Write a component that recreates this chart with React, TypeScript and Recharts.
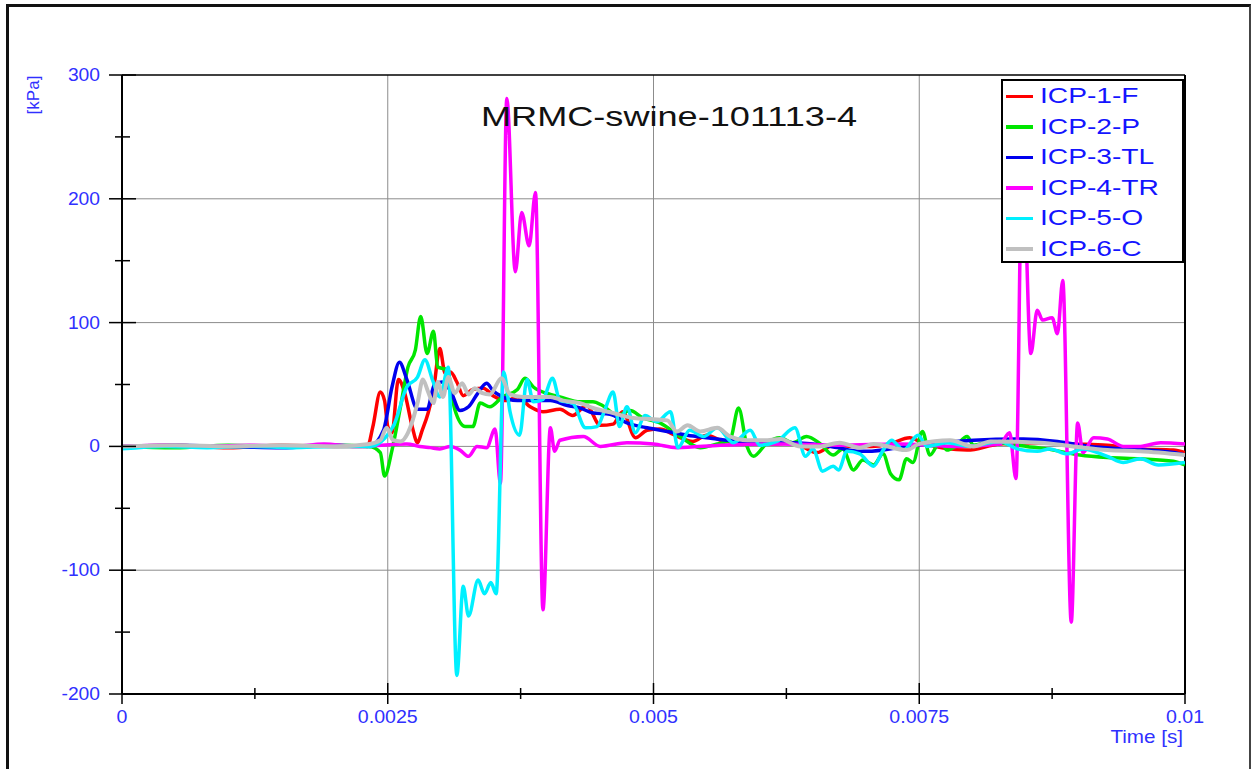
import { LineChart, Line, XAxis, YAxis, CartesianGrid, ReferenceLine, Legend } from "recharts";

const FONT = '"Liberation Sans", Arial, sans-serif';
const TICK_BLUE = "#3030ff";
const LEGEND_BLUE = "#1414ff";

const seriesNames = ["ICP-1-F", "ICP-2-P", "ICP-3-TL", "ICP-4-TR", "ICP-5-O", "ICP-6-C"];
const seriesColors = ["#ff0000", "#00e600", "#0000ee", "#ff00ff", "#00f0ff", "#c0c0c0"];

const yTicks = [-200, -150, -100, -50, 0, 50, 100, 150, 200, 250, 300];
const yGridValues = [-100, 0, 100, 200];
const xTicks = [0, 0.00125, 0.0025, 0.00375, 0.005, 0.00625, 0.0075, 0.00875, 0.01];
const xGridValues = [0.0025, 0.005, 0.0075];

// time [s] / pressure [kPa] per channel
const icp1Time = [0, 0.0005, 0.001, 0.0015, 0.002, 0.00231, 0.00236, 0.00243, 0.00247, 0.0025, 0.00254, 0.0026, 0.00266, 0.00273, 0.00278, 0.00282, 0.00288, 0.00293, 0.00299, 0.00304, 0.00309, 0.00315, 0.00321, 0.0033, 0.0034, 0.00349, 0.00362, 0.00372, 0.00384, 0.00396, 0.00412, 0.00424, 0.00437, 0.0045, 0.00462, 0.00471, 0.00483, 0.00494, 0.00506, 0.00518, 0.00528, 0.00537, 0.0055, 0.00563, 0.00581, 0.006, 0.00616, 0.00631, 0.00654, 0.00669, 0.00688, 0.00705, 0.00722, 0.00741, 0.00755, 0.00795, 0.00826, 0.00864, 0.00895, 0.00927, 0.00958, 0.00989, 0.01];
const icp1Kpa = [0, 1, -1, 1, 0, 0, 16, 44, 37, 16, 11, 54, 43, 16, 3, 12, 27, 45, 79, 59, 60, 52, 41, 46, 47, 41, 37, 40, 32, 28, 30, 25, 33, 17, 18, 28, 7, 13, 14, 10, 6, 4, 9, 5, 3, 2, 2, 3, -5, 1, 0, 0, 2, 7, 2, -3, 2, 3, 2, 1, -2, -3, -5];

const icp2Time = [0, 0.0005, 0.001, 0.0015, 0.002, 0.00233, 0.00243, 0.00247, 0.00254, 0.00262, 0.00269, 0.00276, 0.00281, 0.00287, 0.00293, 0.00297, 0.00306, 0.00313, 0.00323, 0.0033, 0.00337, 0.00346, 0.00358, 0.00372, 0.00379, 0.00387, 0.00403, 0.00412, 0.00431, 0.00443, 0.00452, 0.00466, 0.00478, 0.0049, 0.00506, 0.00525, 0.00544, 0.0056, 0.00572, 0.0058, 0.00588, 0.00594, 0.00607, 0.00619, 0.00631, 0.00644, 0.00657, 0.00669, 0.00678, 0.00688, 0.00697, 0.00707, 0.00716, 0.00723, 0.00731, 0.00738, 0.00744, 0.00753, 0.0076, 0.0077, 0.00776, 0.00784, 0.00795, 0.00801, 0.00817, 0.00833, 0.00851, 0.0087, 0.00901, 0.00927, 0.00958, 0.00989, 0.01];
const icp2Kpa = [0, -1, 1, 0, 1, 0, -5, -24, -3, 32, 64, 78, 105, 75, 93, 64, 62, 30, 16, 16, 35, 32, 40, 46, 55, 48, 42, 40, 36, 36, 33, 25, 29, 23, 19, 8, -1, 2, 5, 31, 0, -8, 3, 7, 3, 8, 2, -7, -2, -19, -11, -15, -6, -22, -27, -10, -13, 12, -7, 4, -3, 0, 8, 1, 4, 2, 0, -2, -7, -9, -10, -12, -15];

const icp3Time = [0, 0.0005, 0.001, 0.0015, 0.002, 0.00233, 0.00246, 0.00254, 0.00261, 0.00268, 0.00278, 0.00287, 0.00294, 0.00301, 0.00309, 0.00318, 0.00326, 0.00334, 0.00343, 0.00349, 0.00358, 0.00372, 0.00387, 0.00403, 0.00419, 0.00431, 0.00443, 0.00459, 0.00475, 0.00494, 0.00513, 0.00532, 0.0055, 0.00569, 0.00588, 0.00607, 0.00631, 0.0065, 0.00673, 0.00694, 0.00701, 0.00738, 0.0077, 0.00801, 0.00848, 0.0088, 0.00911, 0.00942, 0.00989, 0.01];
const icp3Kpa = [0, 1, 0, -1, 1, 0, 13, 48, 68, 54, 30, 30, 50, 52, 45, 29, 32, 42, 51, 45, 40, 37, 37, 37, 33, 31, 27, 26, 19, 15, 12, 9, 7, 5, 4, 4, 3, 2, -1, -4, -4, 0, 3, 5, 6, 4, 0, -2, -5, -7];

const icp4Time = [0, 0.0004, 0.0008, 0.0012, 0.0016, 0.0019, 0.0022, 0.00268, 0.0028, 0.0029, 0.00299, 0.00309, 0.00318, 0.00326, 0.00334, 0.00343, 0.00351, 0.00356, 0.00362, 0.0037, 0.00376, 0.00383, 0.00389, 0.00396, 0.00403, 0.00407, 0.00412, 0.00434, 0.0045, 0.00475, 0.005, 0.00522, 0.00563, 0.00619, 0.00675, 0.00732, 0.00788, 0.00826, 0.00835, 0.00841, 0.00847, 0.00855, 0.00861, 0.00866, 0.00875, 0.0088, 0.00885, 0.00893, 0.00899, 0.00904, 0.00914, 0.00927, 0.00942, 0.00958, 0.00977, 0.01];
const icp4Kpa = [0, 1, 0, 1, 0, 2, 0, 2, 0, -1, -2, 0, -3, -8, 0, -1, 14, -30, 281, 141, 189, 162, 205, -132, 15, -4, 5, 8, 0, 3, 2, -1, 1, 2, 1, 2, 0, 2, 11, -26, 240, 75, 110, 102, 104, 91, 134, -142, 19, -5, 7, 6, 0, 0, 3, 2];

const icp5Time = [0, 0.0004, 0.0008, 0.0012, 0.0016, 0.002, 0.00233, 0.00255, 0.00268, 0.00278, 0.00285, 0.00292, 0.00299, 0.00307, 0.00315, 0.00321, 0.00326, 0.00335, 0.00341, 0.00347, 0.00352, 0.00359, 0.00365, 0.00374, 0.00381, 0.00387, 0.00396, 0.00405, 0.00412, 0.00424, 0.00436, 0.00447, 0.00454, 0.00462, 0.00468, 0.00475, 0.00483, 0.00492, 0.00503, 0.00516, 0.00523, 0.00534, 0.00547, 0.0056, 0.00575, 0.00591, 0.006, 0.00616, 0.00633, 0.00643, 0.0065, 0.00659, 0.00669, 0.00674, 0.00682, 0.00694, 0.00707, 0.00716, 0.00724, 0.00735, 0.00749, 0.00757, 0.00776, 0.00798, 0.00826, 0.00842, 0.00861, 0.00873, 0.00889, 0.00904, 0.00927, 0.00942, 0.00958, 0.00975, 0.01];
const icp5Kpa = [-2, 0, -1, 0, -1, 0, 0, 16, 48, 56, 70, 54, 40, 64, -185, -113, -137, -108, -119, -110, -119, 60, 28, 9, 54, 36, 38, 55, 37, 35, 15, 16, 29, 44, 16, 32, 11, 25, 20, 28, -1, 13, 8, 15, 3, 13, 1, 4, 15, -8, -2, -20, -16, -19, -4, -6, -16, -3, 5, -3, 9, 0, 3, 0, 4, -2, -4, -2, -6, -2, -8, -13, -10, -15, -13];

const icp6Time = [0, 0.0005, 0.001, 0.0015, 0.002, 0.00233, 0.00243, 0.00249, 0.00255, 0.00262, 0.00269, 0.00278, 0.00283, 0.00288, 0.00293, 0.00297, 0.00302, 0.00307, 0.00313, 0.0032, 0.00326, 0.00332, 0.00339, 0.00346, 0.00357, 0.00365, 0.00377, 0.0039, 0.00403, 0.00415, 0.00431, 0.00443, 0.00462, 0.00481, 0.005, 0.00513, 0.00522, 0.00532, 0.00544, 0.0056, 0.00572, 0.00588, 0.00607, 0.00619, 0.00638, 0.00657, 0.00675, 0.00694, 0.00707, 0.00738, 0.0075, 0.00779, 0.00801, 0.00817, 0.00864, 0.00895, 0.00927, 0.00958, 0.01];
const icp6Kpa = [0, 1, 0, 1, 0, 2, 5, 15, 5, 4, 11, 35, 54, 44, 35, 52, 40, 56, 43, 51, 42, 47, 43, 42, 55, 42, 40, 40, 40, 37, 35, 31, 27, 23, 22, 21, 12, 17, 12, 15, 8, 5, 5, 6, 0, 0, 3, -1, 2, -3, 2, 5, 0, 4, 3, 0, -3, -4, -7];

const toPoints = (times: number[], values: number[]) => times.map((t, i) => ({ t, v: values[i] }));

const seriesData = [
  toPoints(icp1Time, icp1Kpa),
  toPoints(icp2Time, icp2Kpa),
  toPoints(icp3Time, icp3Kpa),
  toPoints(icp4Time, icp4Kpa),
  toPoints(icp5Time, icp5Kpa),
  toPoints(icp6Time, icp6Kpa),
];

const YTick = (props: any) => {
  const { x, y, payload } = props;
  const v = payload.value;
  const major = v % 100 === 0;
  const axisX = x + 22;
  return (
    <g>
      {major ? (
        <line x1={axisX - 13} x2={axisX + 14} y1={y} y2={y} stroke="#000" strokeWidth={1.5} />
      ) : (
        <line x1={axisX - 7} x2={axisX + 8} y1={y} y2={y} stroke="#000" strokeWidth={1.5} />
      )}
      {major && (
        <text transform={`translate(${x},${y + 6}) scale(1.1,1)`} textAnchor="end" fontSize={17.5} fill={TICK_BLUE} fontFamily={FONT}>
          {v}
        </text>
      )}
    </g>
  );
};

const XTick = (props: any) => {
  const { x, y, payload } = props;
  const v = payload.value;
  const major = Math.abs(v / 0.0025 - Math.round(v / 0.0025)) < 1e-6;
  const axisY = y - 14;
  return (
    <g>
      {major ? (
        <line x1={x} x2={x} y1={axisY - 11} y2={axisY + 10} stroke="#000" strokeWidth={1.5} />
      ) : (
        <line x1={x} x2={x} y1={axisY - 6} y2={axisY + 5} stroke="#000" strokeWidth={1.5} />
      )}
      {major && (
        <text transform={`translate(${x},${axisY + 29}) scale(1.12,1)`} textAnchor="middle" fontSize={17.5} fill={TICK_BLUE} fontFamily={FONT}>
          {String(v)}
        </text>
      )}
    </g>
  );
};

const YTitle = (props: any) => {
  const vb = props.viewBox || { x: 0, y: 75 };
  return (
    <text transform={`translate(${vb.x + 33},${vb.y + 20}) rotate(-90)`} textAnchor="middle" dominantBaseline="central" fontSize={17} fill={TICK_BLUE} fontFamily={FONT}>
      [kPa]
    </text>
  );
};

const XTitle = (props: any) => {
  const vb = props.viewBox || { x: 122, y: 694, width: 1063 };
  return (
    <text transform={`translate(${vb.x + vb.width - 2},${vb.y + 49}) scale(1.18,1)`} textAnchor="end" fontSize={17.5} fill={TICK_BLUE} fontFamily={FONT}>
      Time [s]
    </text>
  );
};

const LegendBox = (props: any) => {
  const items = props.payload || [];
  return (
    <div style={{ boxSizing: "border-box", width: 183, height: 184, border: "2px solid #000", background: "#fff" }}>
      {items.map((entry: any) => (
        <div key={entry.value} style={{ height: 30.5, display: "flex", alignItems: "center" }}>
          <span style={{ display: "inline-block", width: 27, height: 3.5, background: entry.color, marginLeft: 3, marginRight: 7 }} />
          <span
            style={{
              display: "inline-block",
              fontSize: 22,
              lineHeight: 1,
              color: LEGEND_BLUE,
              fontFamily: FONT,
              transform: "scaleX(1.28)",
              transformOrigin: "left center",
              whiteSpace: "nowrap",
            }}
          >
            {entry.value}
          </span>
        </div>
      ))}
    </div>
  );
};

export default function App() {
  return (
    <div style={{ position: "absolute", left: 0, top: 0, width: 1252, height: 769, background: "#fff", overflow: "hidden" }}>
      <div
        style={{
          position: "absolute",
          left: 6,
          top: 4,
          width: 1245,
          height: 800,
          boxSizing: "border-box",
          borderLeft: "3px solid #111",
          borderTop: "3px solid #111",
          borderRight: "2px solid #444",
        }}
      />
      <div style={{ position: "absolute", left: 0, top: 0 }}>
        <LineChart width={1252} height={769} margin={{ top: 75, right: 67, bottom: 0, left: 0 }}>
          <CartesianGrid horizontalValues={yGridValues} verticalValues={xGridValues} stroke="#8c8c8c" strokeWidth={1} />
          <XAxis
            dataKey="t"
            type="number"
            domain={[0, 0.01]}
            allowDataOverflow
            ticks={xTicks}
            interval={0}
            height={75}
            tickSize={10}
            tickMargin={4}
            tickLine={false}
            axisLine={{ stroke: "#000", strokeWidth: 2 }}
            tick={<XTick />}
            label={<XTitle />}
          />
          <YAxis
            type="number"
            domain={[-200, 300]}
            allowDataOverflow
            ticks={yTicks}
            interval={0}
            width={122}
            tickSize={13}
            tickMargin={9}
            tickLine={false}
            axisLine={{ stroke: "#000", strokeWidth: 2 }}
            tick={<YTick />}
            label={<YTitle />}
          />
          <ReferenceLine y={300} stroke="#000" strokeWidth={1.5} />
          <ReferenceLine x={0.01} stroke="#000" strokeWidth={2} />
          {seriesNames.map((name, i) => (
            <Line
              key={name}
              name={name}
              data={seriesData[i]}
              dataKey="v"
              type="monotone"
              stroke={seriesColors[i]}
              strokeWidth={i === 5 ? 4 : 3.5}
              dot={false}
              activeDot={false}
              isAnimationActive={false}
            />
          ))}
          <Legend
            layout="vertical"
            align="center"
            verticalAlign="middle"
            content={<LegendBox />}
            wrapperStyle={{ left: 1001, top: 79, width: 183, height: 184 }}
          />
        </LineChart>
      </div>
      <div
        style={{
          position: "absolute",
          left: 669,
          top: 101,
          fontSize: 28,
          lineHeight: "32px",
          fontFamily: FONT,
          color: "#111",
          whiteSpace: "nowrap",
          transform: "translateX(-50%) scaleX(1.29)",
        }}
      >
        MRMC-swine-101113-4
      </div>
    </div>
  );
}
